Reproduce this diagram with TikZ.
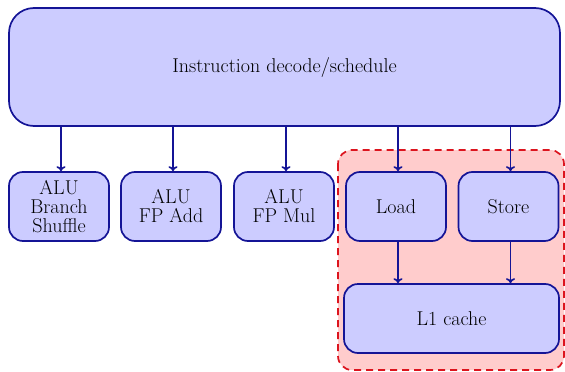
\documentclass[tikz,border=0pt]{standalone}
\usetikzlibrary{arrows.meta}
\definecolor{edgeblue}{RGB}{20,20,150}
\definecolor{boxfill}{RGB}{204,204,255}
\definecolor{zonefill}{RGB}{255,204,204}
\definecolor{zoneedge}{RGB}{220,20,30}
\begin{document}
\begin{tikzpicture}[x=1pt,y=-1pt,
  unit/.style={draw=edgeblue, fill=boxfill, line width=1.7pt, rounded corners=14pt,
    minimum width=100pt, minimum height=69pt, inner sep=0pt, align=center,
    font=\fontsize{20}{19}\selectfont},
  link/.style={draw=edgeblue, line width=1.7pt, -{To[length=5pt,width=9pt]}}]
  \useasboundingbox (0,0) rectangle (565,372);
  % memory zone behind load/store and the cache
  \draw[zoneedge, fill=zonefill, line width=1.7pt, dash pattern=on 7pt off 5pt, rounded corners=14pt]
    (338,150) rectangle (564,370);
  % decoder
  \node[unit, minimum width=551pt, minimum height=118pt, rounded corners=25pt] (dec) at (284.5,67) {Instruction decode/schedule};
  % execution units
  \node[unit] (alu1) at (59,206.5) {ALU\\Branch\\Shuffle};
  \node[unit] (alu2) at (171,206.5) {ALU\\FP Add};
  \node[unit] (alu3) at (284,206.5) {ALU\\FP Mul};
  \node[unit] (ld) at (396,206.5) {Load};
  \node[unit] (st) at (508.5,206.5) {Store};
  \node[unit, minimum width=215pt] (l1) at (451.5,318.5) {L1 cache};
  % dispatch arrows
  \foreach \u in {alu1,alu2,alu3,ld,st}
    \draw[link] ([xshift=2pt]dec.south -| \u.north) -- ([xshift=2pt]\u.north);
  \draw[link] ([xshift=2pt]ld.south) -- ([xshift=2pt]ld.south |- l1.north);
  \draw[link] ([xshift=2pt]st.south) -- ([xshift=2pt]st.south |- l1.north);
\end{tikzpicture}
\end{document}
